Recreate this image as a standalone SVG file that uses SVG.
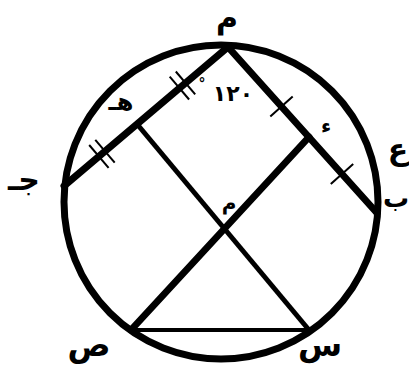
<svg xmlns="http://www.w3.org/2000/svg" width="409" height="365" viewBox="0 0 409 365">
<style>
.thk{stroke:#000;stroke-width:7;fill:none;stroke-linecap:round}
.med{stroke:#000;stroke-width:5;fill:none}
.thn{stroke:#000;stroke-width:4;fill:none}
.tick{stroke:#000;stroke-width:2;fill:none}
text{font-family:"DejaVu Sans",sans-serif;font-weight:bold;fill:#000;text-anchor:middle}
</style>
<rect width="409" height="365" fill="#fff"/>
<g id="circle"><circle cx="221" cy="202" r="157" class="thk"/></g>
<g id="connectors">
<line x1="228" y1="47" x2="64" y2="186" class="thk"/>
<line x1="228" y1="47" x2="377" y2="213" class="thk"/>
<line x1="309" y1="137" x2="131" y2="330" class="thk"/>
<line x1="137" y1="124" x2="309" y2="330" class="med"/>
<line x1="131" y1="330" x2="309" y2="330" class="thn"/>
<line x1="175.8" y1="71.5" x2="195.2" y2="94.3" class="tick"/>
<line x1="169.7" y1="76.7" x2="189.1" y2="99.5" class="tick"/>
<line x1="95.3" y1="139.8" x2="114.7" y2="162.6" class="tick"/>
<line x1="89.2" y1="145" x2="108.6" y2="167.8" class="tick"/>
<line x1="270.3" y1="116.5" x2="292.7" y2="96.5" class="tick"/>
<line x1="330.8" y1="184" x2="353.2" y2="164" class="tick"/>
</g>
<g id="A"><text x="227" y="28" font-size="30">م</text></g>
<g id="angle"><text x="233" y="101" font-size="22">١٢٠</text><text x="202" y="88" font-size="14">°</text></g>
<g id="H"><text x="121" y="110" font-size="24">هـ</text></g>
<g id="D"><text x="326" y="133" font-size="20">ء</text></g>
<g id="E"><text x="398" y="160" font-size="30">ع</text></g>
<g id="B"><text x="396" y="207" font-size="26">ب</text></g>
<g id="J"><text x="24" y="190" font-size="30">جـ</text></g>
<g id="M"><text x="229" y="210" font-size="20">م</text></g>
<g id="S"><text x="89" y="356" font-size="32">ص</text></g>
<g id="SS"><text x="320" y="356" font-size="32">س</text></g>
</svg>
